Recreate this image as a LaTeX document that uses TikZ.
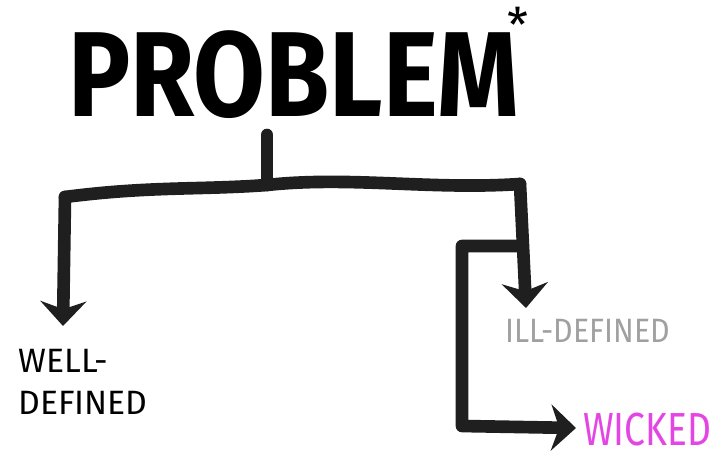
\documentclass[tikz,border=0pt]{standalone}
\usepackage{fontspec}
\setmainfont{Fira Sans}
\usepackage{graphicx}
\usetikzlibrary{arrows.meta}
\definecolor{illgray}{RGB}{160,160,160}
\definecolor{wickedpink}{RGB}{228,70,228}
\newcommand{\titlestar}{\rlap{\hspace{-0.3cm}\raisebox{1.86cm}{\fontsize{34}{34}\selectfont\mdseries *}}}
\begin{document}
\begin{tikzpicture}[
x=0.025cm, y=-0.025cm,
marker/.style={
        draw=black!88,
        line width=9pt,
        line cap=round,
        line join=round,
    },
   pointer/.style = {
   marker,
   -{Stealth[length=0.62cm, width=1.15cm, inset=0.2cm]},
   },
   tag/.style = {
   inner sep=0pt,
   font=\fontsize{24}{30}\selectfont,
   align=left,
   },
 ]
\useasboundingbox (0,0) rectangle (723,458);

   \node [inner sep=0pt, anchor=base, font=\fontsize{86}{86}\selectfont\bfseries] (problem) at (294,117) {\scalebox{0.86}[1]{PROBLEM}\titlestar};

   \node [tag, anchor=north west] (welldef) at (18,349) {WELL-\\DEFINED};
   \node [tag, anchor=base west, text=illgray] (illdef) at (505,342) {\scalebox{0.9}[1]{ILL-DEFINED}};
   \node [tag, anchor=base west, text=wickedpink, font=\fontsize{33}{33}\selectfont] (wicked) at (583,445) {\scalebox{0.8}[1]{WICKED}};

\coordinate (stem) at (267,135);
\coordinate (split) at (267,185);
\coordinate (leftend) at (65,197);
\coordinate (rightend) at (520,184);
\coordinate (fork) at (520,246);
\coordinate (bend) at (462,246);
\coordinate (corner) at (462,426);

\draw[marker] (stem) -- (split);
\draw[marker] (leftend) .. controls (150,186) and (200,190) .. (split) .. controls (350,176) and (430,190) .. (rightend);
\draw[pointer] (leftend) -- (63,326);
\draw[pointer] (rightend) -- (526,308);
\draw[pointer] (fork) -- (bend) -- (corner) -- (576,428);
\end{tikzpicture}
\end{document}
